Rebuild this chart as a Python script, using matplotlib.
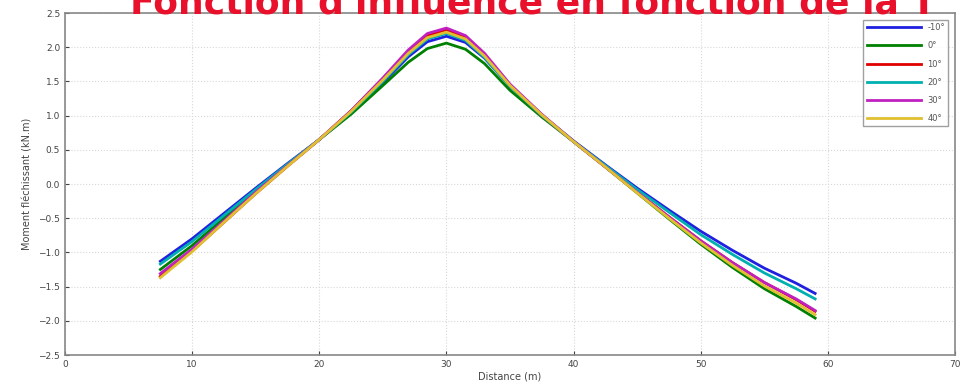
import matplotlib
matplotlib.use("Agg")
import matplotlib.pyplot as plt

# Distance along the span (m)
distance = [7.5, 10, 12.5, 15, 17.5, 20, 22.5, 25, 27, 28.5, 30, 31.5, 33,
            35, 37.5, 40, 42.5, 45, 47.5, 50, 52.5, 55, 57.5, 59]

# Influence values for each temperature
t_m10 = [-1.13, -0.80, -0.43, -0.06, 0.30, 0.65, 1.04, 1.48, 1.86, 2.08, 2.16, 2.07,
         1.84, 1.43, 1.01, 0.63, 0.28, -0.06, -0.38, -0.69, -0.97, -1.23, -1.45, -1.60]
t_0 = [-1.25, -0.90, -0.50, -0.10, 0.28, 0.65, 1.02, 1.44, 1.78, 1.98, 2.06, 1.97,
       1.76, 1.37, 0.98, 0.62, 0.25, -0.13, -0.51, -0.88, -1.22, -1.53, -1.79, -1.96]
t_10 = [-1.35, -0.98, -0.56, -0.14, 0.26, 0.65, 1.07, 1.54, 1.94, 2.17, 2.25, 2.14,
        1.88, 1.44, 1.00, 0.62, 0.25, -0.12, -0.48, -0.83, -1.15, -1.44, -1.69, -1.86]
t_20 = [-1.17, -0.84, -0.46, -0.08, 0.29, 0.65, 1.05, 1.50, 1.89, 2.12, 2.20, 2.10,
        1.85, 1.43, 1.00, 0.62, 0.27, -0.08, -0.41, -0.74, -1.03, -1.30, -1.53, -1.68]
t_30 = [-1.31, -0.95, -0.54, -0.12, 0.27, 0.65, 1.07, 1.55, 1.96, 2.20, 2.28, 2.17,
        1.91, 1.46, 1.02, 0.62, 0.25, -0.12, -0.48, -0.83, -1.15, -1.44, -1.68, -1.85]
t_40 = [-1.37, -0.99, -0.56, -0.14, 0.26, 0.65, 1.06, 1.52, 1.91, 2.14, 2.22, 2.12,
        1.87, 1.44, 1.01, 0.62, 0.25, -0.13, -0.50, -0.86, -1.19, -1.49, -1.74, -1.91]

series = [t_m10, t_0, t_10, t_20, t_30, t_40]
labels = ["-10°", "0°", "10°", "20°", "30°", "40°"]
colors = ["#2020e0", "#008000", "#e00000", "#00b0b0", "#c020c0", "#e0c030"]

x_ticks = [0, 10, 20, 30, 40, 50, 60, 70]
y_ticks = [-2.5, -2.0, -1.5, -1.0, -0.5, 0.0, 0.5, 1.0, 1.5, 2.0, 2.5]

fig = plt.figure(figsize=(9.67, 3.86), dpi=100)
ax = fig.add_axes([0.0672, 0.0803, 0.9204, 0.8860])

for vals, lab, col in zip(series, labels, colors):
    ax.plot(distance, vals, color=col, linewidth=2.0, label=lab)

ax.set_xlim(0, 70)
ax.set_ylim(-2.5, 2.5)
ax.set_xticks(x_ticks)
ax.set_yticks(y_ticks)
ax.tick_params(direction="in", labelsize=6.5, colors="#444444", length=3)
ax.grid(True, color="#d8d8d8", linestyle=":", linewidth=0.8)
for sp in ax.spines.values():
    sp.set_color("#888888")
    sp.set_linewidth(1.2)

ax.set_xlabel("Distance (m)", fontsize=7, color="#444444", labelpad=2)
ax.set_ylabel("Moment fléchissant (kN.m)", fontsize=7, color="#444444", labelpad=4)

leg = ax.legend(loc="upper right", bbox_to_anchor=(0.9925, 0.98), fontsize=6,
                frameon=True, fancybox=False, edgecolor="#888888",
                handlelength=6.5, borderaxespad=0.0, labelspacing=1.1)
for t in leg.get_texts():
    t.set_color("#555555")

# Slide title overlapping the top edge of the figure
fig.text(0.134, 1 - 14 / 386, "Fonction d'influence en fonction de la T°", ha="left",
         va="baseline", fontsize=26, fontweight="bold", color="#e8102a")

fig.savefig("out.png", dpi=100)
